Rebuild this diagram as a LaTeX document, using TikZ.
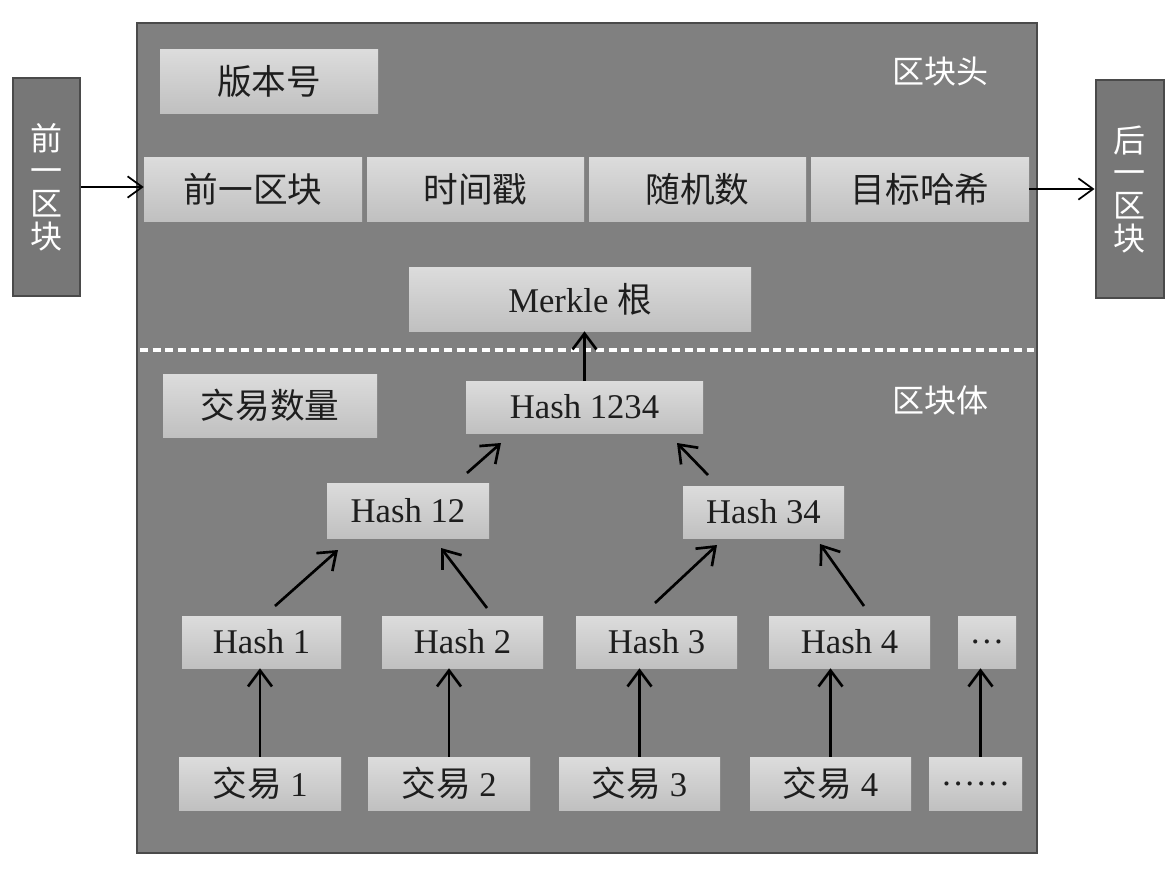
\documentclass[tikz,border=0pt]{standalone}
\usepackage{fontspec}
\setmainfont{Liberation Serif}
\newfontfamily\cjk{Noto Sans CJK SC}
\usetikzlibrary{arrows.meta}
\definecolor{maingray}{HTML}{808080}
\definecolor{mainborder}{HTML}{4A4A4A}
\definecolor{sidegray}{HTML}{777777}
\definecolor{boxtop}{HTML}{DCDCDC}
\definecolor{boxbot}{HTML}{C0C0C0}
\definecolor{txt}{HTML}{1E1E1E}
\newcommand\pbox[6]{\node[box, minimum width={(#4-#2)*0.75pt}, minimum height={(#5-#3)*0.75pt}] (#1) at ({(#2+#4)/2},{(#3+#5)/2}) {#6};}
\tikzset{
  box/.style={rectangle, inner sep=0pt, top color=boxtop, bottom color=boxbot, draw=none, text=txt, font=\fontsize{26}{30}\selectfont},
  mainbox/.style={rectangle, inner sep=0pt, fill=maingray, draw=mainborder, line width=1.5pt},
  sidebox/.style={rectangle, inner sep=0pt, fill=sidegray, draw=mainborder, line width=1.5pt},
  tarrow/.style={-{Straight Barb[length=12pt,width=18pt]}, line width=2pt, black},
  sarrow/.style={-{Straight Barb[length=11pt,width=16pt]}, line width=1.3pt, black},
  white label/.style={text=white, font=\cjk\fontsize{24}{30}\selectfont, inner sep=0pt},
}
\begin{document}
\begin{tikzpicture}[x=0.75pt,y=-0.75pt]
\useasboundingbox (0,0) rectangle (1174,874);
% main block
\node[mainbox, minimum width={900*0.75pt}, minimum height={830*0.75pt}] (main) at (587,438) {};
% side blocks
\node[sidebox, minimum width={67*0.75pt}, minimum height={217*0.75pt}] (prev) at (46.5,187) {};
\node[white label, align=center, font=\cjk\fontsize{24}{24.5}\selectfont] (prevt) at (46.5,187) {前\\一\\区\\块};
\node[sidebox, minimum width={68*0.75pt}, minimum height={217*0.75pt}] (next) at (1129.5,189) {};
\node[white label, align=center, font=\cjk\fontsize{24}{24.5}\selectfont] (nextt) at (1129.5,189) {后\\一\\区\\块};
% labels
\node[white label] (headlbl) at (940,72) {区块头};
\node[white label] (bodylbl) at (940,400) {区块体};
% header boxes
\pbox{ver}{160}{50}{378}{113}{\cjk 版本号}
\pbox{pre}{144}{157}{362}{221}{\cjk 前一区块}
\pbox{time}{367}{157}{584}{221}{\cjk 时间戳}
\pbox{nonce}{589}{157}{806}{221}{\cjk 随机数}
\pbox{target}{811}{157}{1029}{221}{\cjk 目标哈希}
\pbox{merkle}{409}{267}{751}{331}{Merkle {\cjk 根}}
% dashed separator
\coordinate (dl) at (140,350);
\coordinate (dr) at (1034,350);
\draw[white, line width=2.6pt, dash pattern=on 6pt off 3.5pt] (dl) -- (dr);
% body boxes
\pbox{count}{163}{374}{377}{437}{\cjk 交易数量}
\pbox{h1234}{466}{381}{703}{433}{Hash 1234}
\pbox{h12}{327}{483}{489}{538}{Hash 12}
\pbox{h34}{683}{486}{844}{538}{Hash 34}
\pbox{h1}{182}{616}{341}{668}{Hash 1}
\pbox{h2}{382}{616}{543}{668}{Hash 2}
\pbox{h3}{576}{616}{737}{668}{Hash 3}
\pbox{h4}{769}{616}{930}{668}{Hash 4}
\pbox{hd}{958}{616}{1016}{668}{…}
\pbox{t1}{179}{757}{341}{810}{{\cjk 交易} 1}
\pbox{t2}{368}{757}{530}{810}{{\cjk 交易} 2}
\pbox{t3}{559}{757}{720}{810}{{\cjk 交易} 3}
\pbox{t4}{750}{757}{911}{810}{{\cjk 交易} 4}
\pbox{td}{929}{757}{1022}{810}{……}
% side arrows
\draw[sarrow] (prev.east) -- (prev.east -| pre.west);
\draw[sarrow] (target.east) -- (target.east -| next.west);
% tree arrows
\draw[tarrow] (h1234.north) -- (h1234.north |- merkle.south);
\draw[tarrow] (t1.north) -- (t1.north |- h1.south);
\draw[tarrow] (t2.north) -- (t2.north |- h2.south);
\draw[tarrow] (t3.north) -- (t3.north |- h3.south);
\draw[tarrow] (t4.north) -- (t4.north |- h4.south);
\draw[tarrow] ([xshift={5*0.75pt}]td.north) -- ([xshift={5*0.75pt}]td.north |- hd.south);
\coordinate (a1s) at (275,606); \coordinate (a1e) at (338,550);
\coordinate (a2s) at (487,608); \coordinate (a2e) at (441,548);
\coordinate (a3s) at (655,603); \coordinate (a3e) at (717,545);
\coordinate (a4s) at (864,606); \coordinate (a4e) at (820,544);
\coordinate (a5s) at (467,473); \coordinate (a5e) at (501,443);
\coordinate (a6s) at (708,475); \coordinate (a6e) at (677,443);
\draw[tarrow] (a1s) -- (a1e);
\draw[tarrow] (a2s) -- (a2e);
\draw[tarrow] (a3s) -- (a3e);
\draw[tarrow] (a4s) -- (a4e);
\draw[tarrow] (a5s) -- (a5e);
\draw[tarrow] (a6s) -- (a6e);
\end{tikzpicture}
\end{document}
